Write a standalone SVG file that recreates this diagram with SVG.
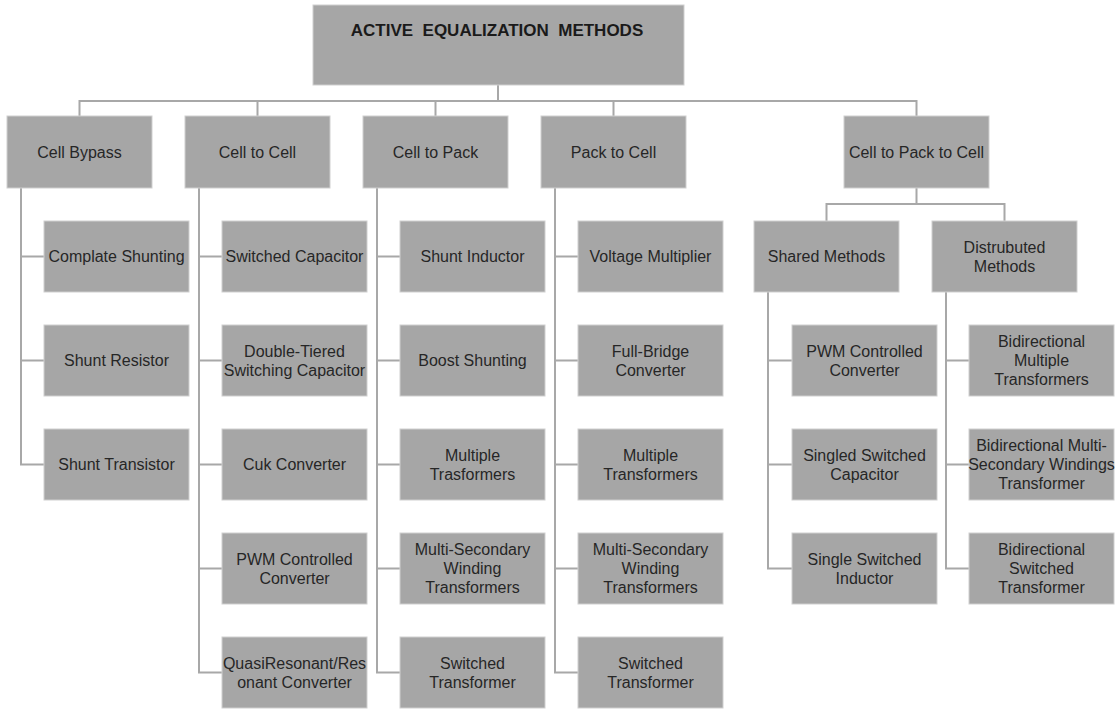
<svg xmlns="http://www.w3.org/2000/svg" width="1118" height="711" viewBox="0 0 1118 711">
<style>
.box{fill:#a6a6a6;stroke:#cfcfcf;stroke-width:1}
.t{font-family:"Liberation Sans",Arial,sans-serif;font-size:16px;fill:#262626;text-anchor:middle}
.title{font-family:"Liberation Sans",Arial,sans-serif;font-size:17px;font-weight:bold;fill:#1a1a1a;text-anchor:middle;white-space:pre}
.c{fill:none;stroke:#a8a8a8;stroke-width:2}
</style>
<rect width="1118" height="711" fill="#ffffff"/>
<g id="connectors" class="c">
<path d="M498 85V101M79.5 116V101H916.5V116M257.5 101V116M435.5 101V116M613.5 101V116"/>
<path d="M21 188V464.5H44M21 256.5H44M21 360.5H44"/>
<path d="M199 188V672.5H222M199 256.5H222M199 360.5H222M199 464.5H222M199 568.5H222"/>
<path d="M377 188V672.5H400M377 256.5H400M377 360.5H400M377 464.5H400M377 568.5H400"/>
<path d="M555 188V672.5H578M555 256.5H578M555 360.5H578M555 464.5H578M555 568.5H578"/>
<path d="M916.5 188V204M826.5 221V204H1004.5V221"/>
<path d="M768 292V568.5H792M768 360.5H792M768 464.5H792"/>
<path d="M946 292V568.5H969M946 360.5H969M946 464.5H969"/>
</g>
<g id="root"><rect class="box" x="313" y="5" width="371" height="80"/><text class="title" x="497" y="36" xml:space="preserve">ACTIVE  EQUALIZATION  METHODS</text></g>
<g id="cell-bypass"><rect class="box" x="7" y="116" width="145" height="72"/><text class="t" x="79.5" y="157.5">Cell Bypass</text></g>
<g id="cell-to-cell"><rect class="box" x="185" y="116" width="145" height="72"/><text class="t" x="257.5" y="157.5">Cell to Cell</text></g>
<g id="cell-to-pack"><rect class="box" x="363" y="116" width="145" height="72"/><text class="t" x="435.5" y="157.5">Cell to Pack</text></g>
<g id="pack-to-cell"><rect class="box" x="541" y="116" width="145" height="72"/><text class="t" x="613.5" y="157.5">Pack to Cell</text></g>
<g id="cell-to-pack-to-cell"><rect class="box" x="844" y="116" width="145" height="72"/><text class="t" x="916.5" y="157.5">Cell to Pack to Cell</text></g>

<g id="complate-shunting"><rect class="box" x="44" y="221" width="145" height="71"/><text class="t" x="116.5" y="262">Complate Shunting</text></g>
<g id="shunt-resistor"><rect class="box" x="44" y="325" width="145" height="71"/><text class="t" x="116.5" y="366">Shunt Resistor</text></g>
<g id="shunt-transistor"><rect class="box" x="44" y="429" width="145" height="71"/><text class="t" x="116.5" y="470">Shunt Transistor</text></g>

<g id="switched-capacitor"><rect class="box" x="222" y="221" width="145" height="71"/><text class="t" x="294.5" y="262">Switched Capacitor</text></g>
<g id="double-tiered"><rect class="box" x="222" y="325" width="145" height="71"/><text class="t" x="294.5" y="356.5">Double-Tiered</text><text class="t" x="294.5" y="375.5">Switching Capacitor</text></g>
<g id="cuk-converter"><rect class="box" x="222" y="429" width="145" height="71"/><text class="t" x="294.5" y="470">Cuk Converter</text></g>
<g id="pwm-c2c"><rect class="box" x="222" y="533" width="145" height="71"/><text class="t" x="294.5" y="564.5">PWM Controlled</text><text class="t" x="294.5" y="583.5">Converter</text></g>
<g id="quasi-resonant"><rect class="box" x="222" y="637" width="145" height="71"/><text class="t" x="294.5" y="668.5">QuasiResonant/Res</text><text class="t" x="294.5" y="687.5">onant Converter</text></g>

<g id="shunt-inductor"><rect class="box" x="400" y="221" width="145" height="71"/><text class="t" x="472.5" y="262">Shunt Inductor</text></g>
<g id="boost-shunting"><rect class="box" x="400" y="325" width="145" height="71"/><text class="t" x="472.5" y="366">Boost Shunting</text></g>
<g id="multiple-trasformers"><rect class="box" x="400" y="429" width="145" height="71"/><text class="t" x="472.5" y="460.5">Multiple</text><text class="t" x="472.5" y="479.5">Trasformers</text></g>
<g id="msw-c2p"><rect class="box" x="400" y="533" width="145" height="71"/><text class="t" x="472.5" y="555">Multi-Secondary</text><text class="t" x="472.5" y="574">Winding</text><text class="t" x="472.5" y="593">Transformers</text></g>
<g id="switched-transformer-c2p"><rect class="box" x="400" y="637" width="145" height="71"/><text class="t" x="472.5" y="668.5">Switched</text><text class="t" x="472.5" y="687.5">Transformer</text></g>

<g id="voltage-multiplier"><rect class="box" x="578" y="221" width="145" height="71"/><text class="t" x="650.5" y="262">Voltage Multiplier</text></g>
<g id="full-bridge"><rect class="box" x="578" y="325" width="145" height="71"/><text class="t" x="650.5" y="356.5">Full-Bridge</text><text class="t" x="650.5" y="375.5">Converter</text></g>
<g id="multiple-transformers"><rect class="box" x="578" y="429" width="145" height="71"/><text class="t" x="650.5" y="460.5">Multiple</text><text class="t" x="650.5" y="479.5">Transformers</text></g>
<g id="msw-p2c"><rect class="box" x="578" y="533" width="145" height="71"/><text class="t" x="650.5" y="555">Multi-Secondary</text><text class="t" x="650.5" y="574">Winding</text><text class="t" x="650.5" y="593">Transformers</text></g>
<g id="switched-transformer-p2c"><rect class="box" x="578" y="637" width="145" height="71"/><text class="t" x="650.5" y="668.5">Switched</text><text class="t" x="650.5" y="687.5">Transformer</text></g>

<g id="shared-methods"><rect class="box" x="754" y="221" width="145" height="71"/><text class="t" x="826.5" y="262">Shared Methods</text></g>
<g id="distrubuted-methods"><rect class="box" x="932" y="221" width="145" height="71"/><text class="t" x="1004.5" y="252.5">Distrubuted</text><text class="t" x="1004.5" y="271.5">Methods</text></g>

<g id="pwm-shared"><rect class="box" x="792" y="325" width="145" height="71"/><text class="t" x="864.5" y="356.5">PWM Controlled</text><text class="t" x="864.5" y="375.5">Converter</text></g>
<g id="singled-switched-capacitor"><rect class="box" x="792" y="429" width="145" height="71"/><text class="t" x="864.5" y="460.5">Singled Switched</text><text class="t" x="864.5" y="479.5">Capacitor</text></g>
<g id="single-switched-inductor"><rect class="box" x="792" y="533" width="145" height="71"/><text class="t" x="864.5" y="564.5">Single Switched</text><text class="t" x="864.5" y="583.5">Inductor</text></g>

<g id="bidir-multiple"><rect class="box" x="969" y="325" width="145" height="71"/><text class="t" x="1041.5" y="347">Bidirectional</text><text class="t" x="1041.5" y="366">Multiple</text><text class="t" x="1041.5" y="385">Transformers</text></g>
<g id="bidir-msw"><rect class="box" x="969" y="429" width="145" height="71"/><text class="t" x="1041.5" y="451">Bidirectional Multi-</text><text class="t" x="1041.5" y="470">Secondary Windings</text><text class="t" x="1041.5" y="489">Transformer</text></g>
<g id="bidir-switched"><rect class="box" x="969" y="533" width="145" height="71"/><text class="t" x="1041.5" y="555">Bidirectional</text><text class="t" x="1041.5" y="574">Switched</text><text class="t" x="1041.5" y="593">Transformer</text></g>
</svg>
